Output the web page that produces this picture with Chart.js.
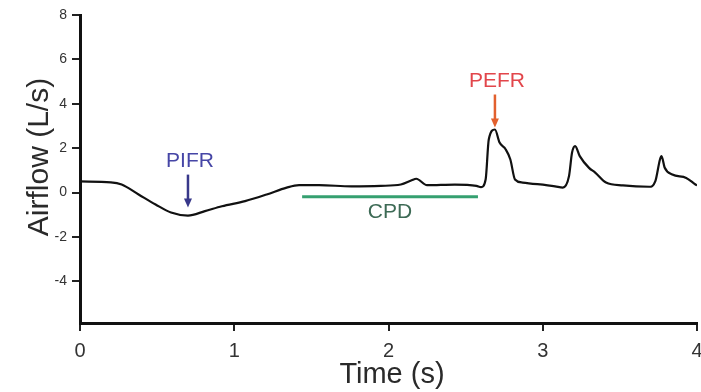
<!DOCTYPE html>
<html>
<head>
<meta charset="utf-8">
<script src="https://cdn.jsdelivr.net/npm/chart.js@4"></script>
<style>
  body { margin: 0; background: #fff; }
</style>
</head>
<body>
<canvas id="flowChart" width="701" height="392"></canvas>
<script>
// airflow trace
var timeS = [0, 0.20, 0.27, 0.38, 0.49, 0.59, 0.70, 0.81, 0.92, 1.07, 1.21, 1.34, 1.42, 1.55, 1.76, 1.95,
    2.08, 2.15, 2.18, 2.25, 2.43, 2.57, 2.60, 2.63, 2.65, 2.69, 2.72, 2.76, 2.79, 2.82, 2.87,
    3.08, 3.13, 3.17, 3.19, 3.21, 3.24, 3.30, 3.34, 3.41, 3.52,
    3.69, 3.73, 3.76, 3.77, 3.79, 3.84, 3.93, 3.99, 4.0];
var airflow = [0.50, 0.46, 0.36, -0.09, -0.54, -0.90, -1.04, -0.84, -0.62, -0.39, -0.09, 0.22, 0.33, 0.33, 0.28, 0.30,
    0.36, 0.55, 0.62, 0.33, 0.36, 0.30, 0.24, 0.60, 2.39, 2.84, 2.25, 1.94, 1.49, 0.59, 0.45,
    0.28, 0.22, 0.73, 1.80, 2.09, 1.64, 1.11, 0.90, 0.45, 0.32,
    0.26, 0.51, 1.49, 1.64, 1.13, 0.81, 0.66, 0.36, 0.32];

var yTicks = [-4, -2, 0, 2, 4, 6, 8];
var xTicks = [0, 1, 2, 3, 4];

// CPD bar
var cpdT = [1.44, 2.58];
var cpdFlow = [-0.19, -0.19];

// peak markers
var markNames = ["PIFR", "PEFR"];
var markT = [0.70, 2.69];
var markFlow = [-1.04, 2.84];

var markStyle = [
    { text: "#4646a6", arrow: "#38388a", gap: 8 },
    { text: "#e2464b", arrow: "#e2602e", gap: 2 }
];

var annot = {
    id: "annot",
    afterDatasetsDraw: function(chart) {
        var ctx = chart.ctx;
        var x = chart.scales.x;
        var y = chart.scales.y;
        ctx.save();

        for (var i = 0; i < markNames.length; i++) {
            var st = markStyle[i];
            var px = x.getPixelForValue(markT[i]);
            var tip = y.getPixelForValue(markFlow[i]) - st.gap;
            var tail = tip - 33;
            ctx.strokeStyle = st.arrow;
            ctx.fillStyle = st.arrow;
            ctx.lineWidth = 2.5;
            ctx.beginPath();
            ctx.moveTo(px, tail);
            ctx.lineTo(px, tip - 7);
            ctx.stroke();
            ctx.beginPath();
            ctx.moveTo(px - 4, tip - 9);
            ctx.lineTo(px + 4, tip - 9);
            ctx.lineTo(px, tip);
            ctx.closePath();
            ctx.fill();

            ctx.fillStyle = st.text;
            ctx.font = "21px 'Liberation Sans', Arial, sans-serif";
            ctx.textAlign = "center";
            ctx.textBaseline = "middle";
            ctx.fillText(markNames[i], px + 2, tail - 13);
        }

        // CPD label
        var cx = (x.getPixelForValue(cpdT[0]) + x.getPixelForValue(cpdT[1])) / 2;
        ctx.fillStyle = "#3d6a55";
        ctx.font = "21px 'Liberation Sans', Arial, sans-serif";
        ctx.textAlign = "center";
        ctx.textBaseline = "middle";
        ctx.fillText("CPD", cx, y.getPixelForValue(cpdFlow[0]) + 15);

        // axis titles
        ctx.fillStyle = "#2a2a2a";
        ctx.font = "29px 'Liberation Sans', Arial, sans-serif";
        ctx.textBaseline = "alphabetic";
        ctx.fillText("Time (s)", 392, 383);

        ctx.translate(48, 157);
        ctx.rotate(-Math.PI / 2);
        ctx.font = "30px 'Liberation Sans', Arial, sans-serif";
        ctx.fillText("Airflow (L/s)", 0, 0);
        ctx.restore();
    }
};

var points = [];
for (var i = 0; i < timeS.length; i++) {
    points.push({ x: timeS[i], y: airflow[i] });
}
var cpdPoints = [];
for (var j = 0; j < cpdT.length; j++) {
    cpdPoints.push({ x: cpdT[j], y: cpdFlow[j] });
}

var ctx = document.getElementById("flowChart");

var flowChart = new Chart(ctx, {
    type: "line",
    data: {
        datasets: [{
            label: "Airflow",
            data: points,
            borderColor: "#111",
            borderWidth: 2.2,
            pointRadius: 0,
            cubicInterpolationMode: "monotone"
        }, {
            label: "CPD",
            data: cpdPoints,
            borderColor: "#35a070",
            borderWidth: 3,
            pointRadius: 0
        }]
    },
    options: {
        responsive: false,
        animation: false,
        layout: { padding: { top: 15, right: 4, left: 0, bottom: 0 } },
        plugins: {
            legend: { display: false },
            tooltip: { enabled: false }
        },
        scales: {
            x: {
                type: "linear",
                min: 0,
                max: 4,
                afterBuildTicks: function(scale) {
                    scale.ticks = xTicks.map(function(v) { return { value: v }; });
                },
                afterFit: function(scale) {
                    scale.height = 69;
                    scale.paddingLeft = 0;
                    scale.paddingRight = 0;
                },
                border: { display: true, color: "#111", width: 3 },
                grid: { display: true, drawOnChartArea: false, drawTicks: true, tickLength: 8, color: "#222", lineWidth: 2 },
                ticks: {
                    color: "#333",
                    padding: 8,
                    maxRotation: 0,
                    font: { family: "'Liberation Sans', Arial, sans-serif", size: 20 }
                }
            },
            y: {
                min: -5.88,
                max: 8,
                afterBuildTicks: function(scale) {
                    scale.ticks = yTicks.map(function(v) { return { value: v }; });
                },
                afterFit: function(scale) {
                    scale.width = 80;
                },
                border: { display: true, color: "#111", width: 3 },
                grid: { display: true, drawOnChartArea: false, drawTicks: true, tickLength: 8, color: "#222", lineWidth: 2 },
                ticks: {
                    color: "#333",
                    padding: 5,
                    font: { family: "'Liberation Sans', Arial, sans-serif", size: 14 }
                }
            }
        }
    },
    plugins: [annot]
});
</script>
</body>
</html>
